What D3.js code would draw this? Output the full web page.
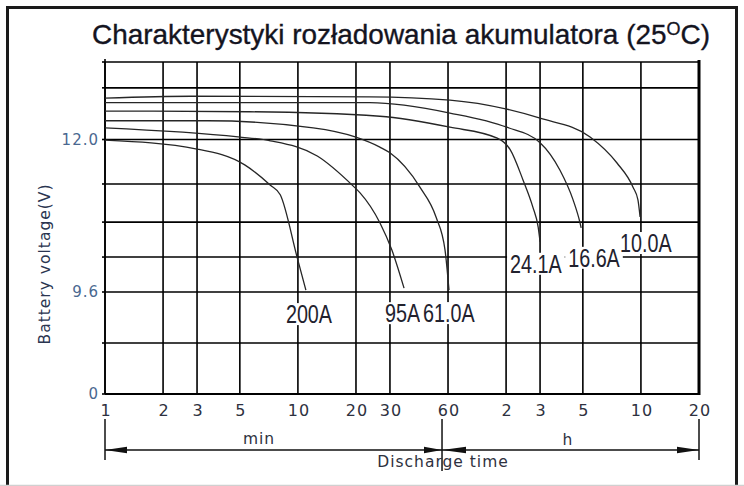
<!DOCTYPE html>
<html>
<head>
<meta charset="utf-8">
<script src="https://cdn.jsdelivr.net/npm/d3@7"></script>
<style>
body { margin: 0; background: #fff; }
svg { display: block; }
</style>
</head>
<body>
<svg id="chart" width="744" height="486"></svg>
<script>
// discharge time in minutes, battery voltage in volts
var currents = ["200A", "95A", "61.0A", "24.1A", "16.6A", "10.0A"];

var t200 = [1, 3.0, 5.3, 7.2, 8.1, 9.9, 11.0];
var v200 = [11.99, 11.85, 11.60, 11.28, 11.13, 10.15, 9.63];

var t95 = [1, 4.9, 7.2, 12.6, 19.3, 21, 26.6, 30.7, 35.5];
var v95 = [12.18, 12.04, 11.98, 11.74, 11.27, 11.16, 10.69, 10.26, 9.66];

var t61 = [1, 3.4, 12.0, 19.8, 26.6, 30, 42.9, 52, 57.9, 60.7];
var v61 = [12.29, 12.29, 12.18, 12.04, 11.88, 11.79, 11.25, 10.78, 10.26, 9.63];

var t24 = [1, 5.6, 26.6, 61.4, 108, 126, 147, 165, 176, 180];
var v24 = [12.44, 12.43, 12.36, 12.19, 12.02, 11.84, 11.36, 10.94, 10.62, 10.39];

var t16 = [1, 23.6, 61.4, 121, 180, 228, 267, 290, 294];
var v16 = [12.57, 12.57, 12.41, 12.19, 11.95, 11.52, 11.05, 10.69, 10.61];

var t10 = [1, 2.8, 23.6, 61.4, 121, 180, 327, 451, 546, 579, 594];
var v10 = [12.64, 12.67, 12.66, 12.61, 12.47, 12.33, 12.04, 11.63, 11.25, 11.05, 10.78];

var seriesTimes = [t200, t95, t61, t24, t16, t10];
var seriesVolts = [v200, v95, v61, v24, v16, v10];

var xTicks = [1, 2, 3, 5, 10, 20, 30, 60, 120, 180, 300, 600, 1200];
var xTickLabels = ["1", "2", "3", "5", "10", "20", "30", "60", "2", "3", "5", "10", "20"];
var yGrid = [0, 4.8, 9.6, 10.15, 10.7, 11.3, 12.0, 12.8, 13.2];
var yTicks = [0, 9.6, 12.0];
var yTickLabels = ["0", "9.6", "12.0"];

var svg = d3.select("#chart");

var x = d3.scaleLog().domain([1, 1200]).range([105, 699]);
// broken voltage axis: each section has its own spacing
var y = d3.scaleLinear().domain([0, 9.6, 12.0, 13.2]).range([394, 292, 139.5, 62]);

// outer frame
svg.append("rect")
    .attr("x", 7.5).attr("y", 7.5)
    .attr("width", 729).attr("height", 520)
    .attr("fill", "none")
    .attr("stroke", "#1a1a1a")
    .attr("stroke-width", 3);
svg.append("line")
    .attr("x1", 0).attr("x2", 744)
    .attr("y1", 485.5).attr("y2", 485.5)
    .attr("stroke", "#d0d0d0").attr("stroke-width", 1.5);

// title (narrow face, squeezed to the width it has in the picture)
var title = svg.append("text")
    .attr("x", 92).attr("y", 44)
    .attr("font-family", "Liberation Sans, Arial, sans-serif")
    .attr("font-size", "28px")
    .attr("fill", "#14141f")
    .attr("stroke", "#14141f")
    .attr("stroke-width", 0.35);
title.append("tspan").text("Charakterystyki rozładowania akumulatora (25");
title.append("tspan").attr("font-size", "18px").attr("dy", -9).text("O");
title.append("tspan").attr("dy", 9).text("C)");
title.attr("textLength", 618).attr("lengthAdjust", "spacingAndGlyphs");

// grid
var grid = svg.append("g").attr("stroke", "#000").attr("stroke-width", 1.6);
grid.selectAll(".vline")
    .data(xTicks)
    .enter().append("line")
    .attr("class", "vline")
    .attr("x1", d => x(d)).attr("x2", d => x(d))
    .attr("y1", y(13.2)).attr("y2", y(0));
grid.selectAll(".hline")
    .data(yGrid)
    .enter().append("line")
    .attr("class", "hline")
    .attr("x1", x(1)).attr("x2", x(1200))
    .attr("y1", d => y(d)).attr("y2", d => y(d));
// small ticks on the voltage axis
grid.selectAll(".ytick")
    .data(yGrid)
    .enter().append("line")
    .attr("class", "ytick")
    .attr("x1", x(1) - 3).attr("x2", x(1))
    .attr("y1", d => y(d)).attr("y2", d => y(d));
grid.append("line")
    .attr("x1", x(1)).attr("x2", x(1))
    .attr("y1", y(13.2) - 3).attr("y2", y(0));
grid.append("line")
    .attr("x1", x(1200)).attr("x2", x(1200))
    .attr("y1", y(13.2) - 2).attr("y2", y(0) + 1)
    .attr("stroke-width", 3);
grid.append("line")
    .attr("x1", x(1)).attr("x2", x(1200))
    .attr("y1", y(0)).attr("y2", y(0))
    .attr("stroke-width", 2.2);

// discharge curves
var line = d3.line()
    .x(d => x(d[0]))
    .y(d => y(d[1]))
    .curve(d3.curveMonotoneX);

var curves = currents.map(function(c, i) {
    return seriesTimes[i].map((t, j) => [t, seriesVolts[i][j]]);
});

svg.append("g").selectAll("path")
    .data(curves)
    .enter().append("path")
    .attr("d", line)
    .attr("fill", "none")
    .attr("stroke", "#262626")
    .attr("stroke-width", 1.3);

// current labels under the end of each curve
var labelNudge = [[-20, 33], [-19, 34], [-26, 32], [-30, 31], [-13, 39], [-20, 35]];
var labels = svg.append("g");
currents.forEach(function(c, i) {
    var last = curves[i][curves[i].length - 1];
    var lx = x(last[0]) + labelNudge[i][0];
    var ly = y(last[1]) + labelNudge[i][1];
    var bg = labels.append("rect").attr("fill", "#fff");
    var txt = labels.append("text")
        .attr("x", lx).attr("y", ly)
        .attr("font-family", "Liberation Sans, Arial, sans-serif")
        .attr("font-size", "26px")
        .attr("fill", "#22222e")
        .text(c);
    var w = txt.node().getComputedTextLength() * 0.76;
    txt.attr("textLength", w).attr("lengthAdjust", "spacingAndGlyphs");
    bg.attr("x", lx - 3).attr("y", ly - 20)
        .attr("width", w + 6).attr("height", 22);
});

// axis labels
svg.append("g").selectAll("text")
    .data(xTicks)
    .enter().append("text")
    .attr("x", d => x(d) + 1)
    .attr("y", 415.5)
    .attr("text-anchor", "middle")
    .attr("font-family", "DejaVu Sans, Verdana, sans-serif")
    .attr("font-size", "16px")
    .attr("letter-spacing", "1px")
    .attr("fill", "#2e3140")
    .text((d, i) => xTickLabels[i]);

svg.append("g").selectAll("text")
    .data(yTicks)
    .enter().append("text")
    .attr("x", 99)
    .attr("y", d => y(d))
    .attr("dy", "0.36em")
    .attr("text-anchor", "end")
    .attr("font-family", "DejaVu Sans, Verdana, sans-serif")
    .attr("font-size", "15px")
    .attr("letter-spacing", "1px")
    .attr("fill", "#4a6890")
    .text((d, i) => yTickLabels[i]);

svg.append("text")
    .attr("transform", "translate(50,264) rotate(-90)")
    .attr("text-anchor", "middle")
    .attr("font-family", "DejaVu Sans, Verdana, sans-serif")
    .attr("font-size", "15.5px")
    .attr("letter-spacing", "1px")
    .attr("fill", "#2a3550")
    .text("Battery voltage(V)");

// discharge time bracket under the axis
var split = x(60) - 6;
var ann = svg.append("g").attr("stroke", "#111").attr("stroke-width", 1.5);
ann.append("line").attr("x1", x(1)).attr("x2", x(1)).attr("y1", 419).attr("y2", 460);
ann.append("line").attr("x1", x(1200)).attr("x2", x(1200)).attr("y1", 419).attr("y2", 460);
ann.append("line").attr("x1", split).attr("x2", split).attr("y1", 419).attr("y2", 471);
ann.append("line").attr("x1", x(1)).attr("x2", x(1200)).attr("y1", 450).attr("y2", 450);

var arrows = [[x(1), 22], [split, -18], [split, 24], [x(1200), -22]];
svg.append("g").selectAll("path")
    .data(arrows)
    .enter().append("path")
    .attr("d", d => "M" + d[0] + ",450L" + (d[0] + d[1]) + ",446.8L" + (d[0] + d[1]) + ",453.2Z")
    .attr("fill", "#111");

var small = svg.append("g")
    .attr("font-family", "DejaVu Sans, Verdana, sans-serif")
    .attr("font-size", "15.5px")
    .attr("letter-spacing", "1px")
    .attr("fill", "#2e3140")
    .attr("text-anchor", "middle");
small.append("text").attr("x", 259).attr("y", 444).text("min");
small.append("text").attr("x", 568).attr("y", 445).text("h");
small.append("text").attr("x", split + 1).attr("y", 467).text("Discharge time");
</script>
</body>
</html>
